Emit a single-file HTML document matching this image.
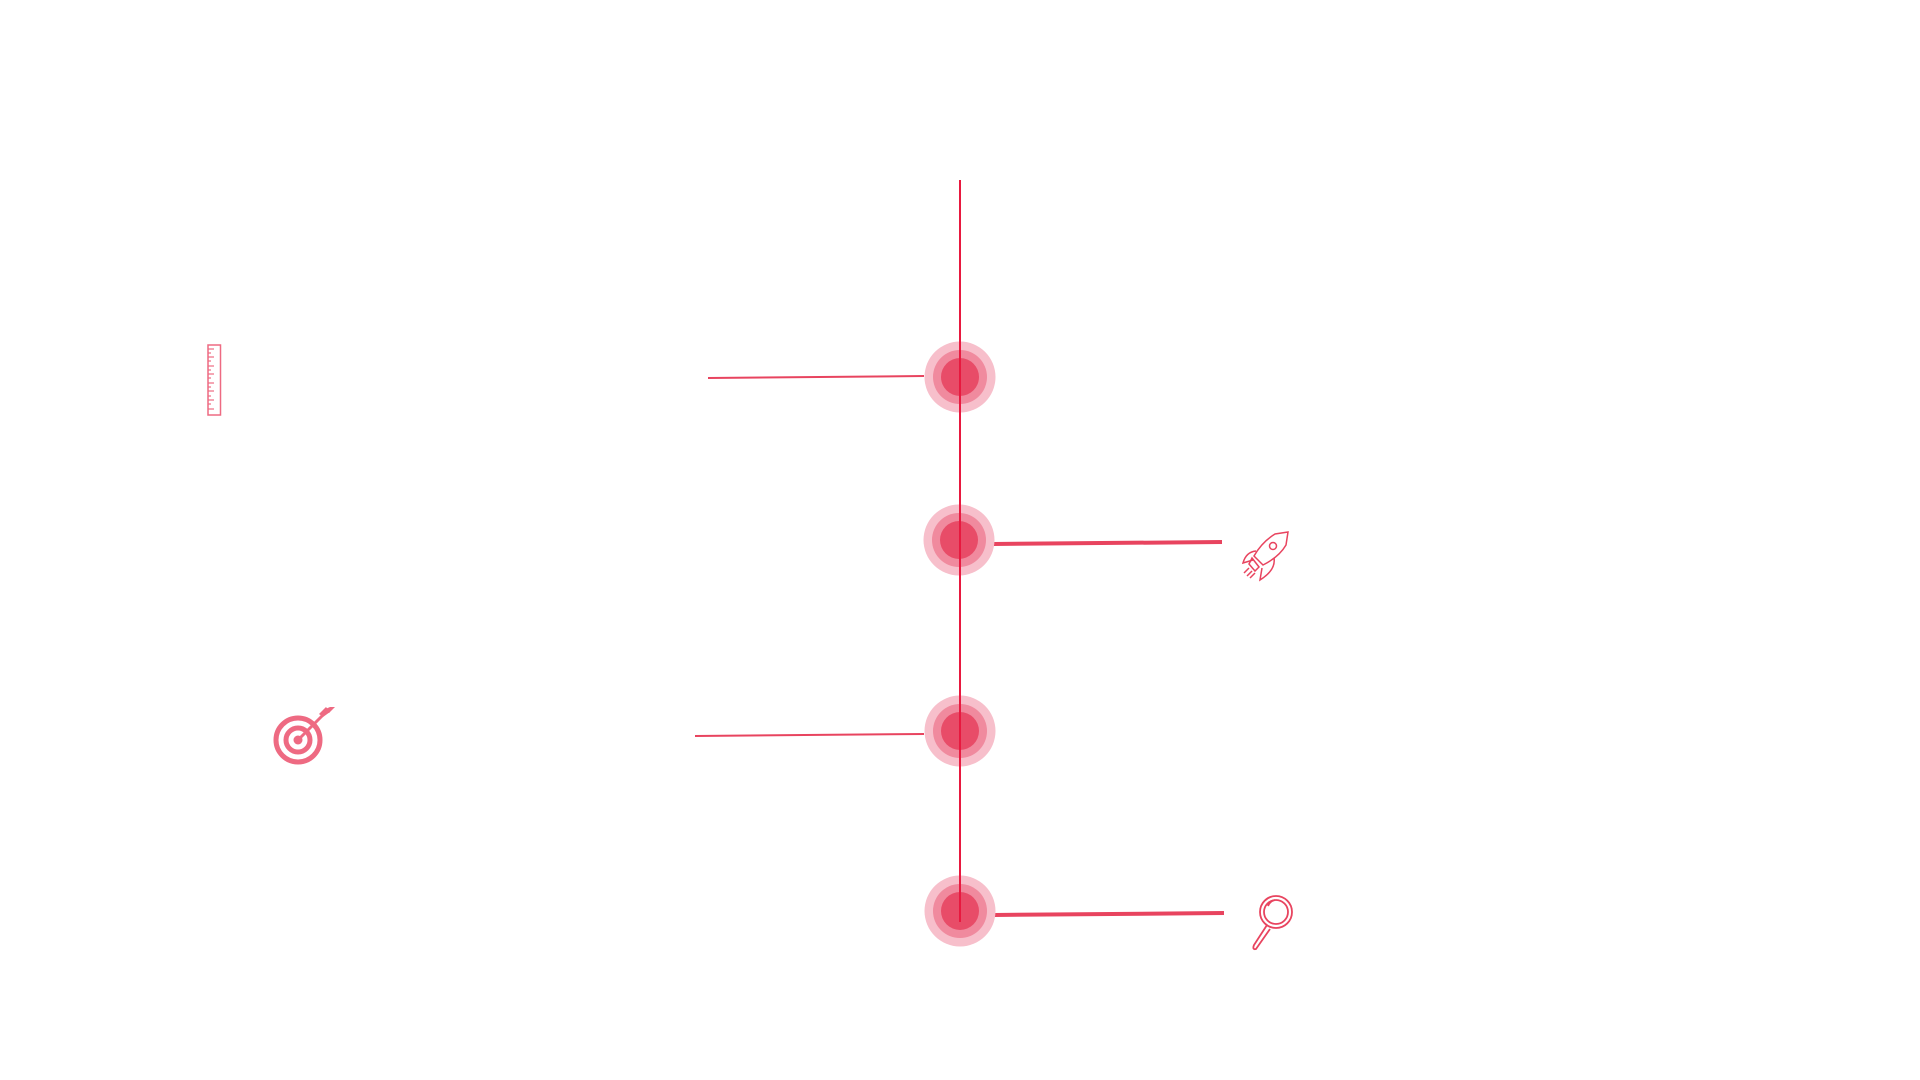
<!DOCTYPE html>
<html><head><style>html,body{margin:0;padding:0;background:#fff;width:1920px;height:1080px;overflow:hidden}</style></head>
<body>
<svg width="1920" height="1080" viewBox="0 0 1920 1080" xmlns="http://www.w3.org/2000/svg">
<g>
<line x1="708" y1="378" x2="924" y2="376" stroke="#e8445f" stroke-width="2"/>
<line x1="695" y1="736" x2="924" y2="734" stroke="#e8445f" stroke-width="2"/>
<line x1="993" y1="544" x2="1222" y2="542" stroke="#e8445f" stroke-width="4"/>
<line x1="994" y1="915" x2="1224" y2="913" stroke="#e8445f" stroke-width="4"/>
</g>
<g>
<circle cx="960" cy="377" r="35.5" fill="#f7bfcb"/><circle cx="960" cy="377" r="27" fill="#f08a9e"/><circle cx="960" cy="377" r="19" fill="#e84c68"/>
<circle cx="959" cy="540" r="35.5" fill="#f7bfcb"/><circle cx="959" cy="540" r="27" fill="#f08a9e"/><circle cx="959" cy="540" r="19" fill="#e84c68"/>
<circle cx="960" cy="731" r="35.5" fill="#f7bfcb"/><circle cx="960" cy="731" r="27" fill="#f08a9e"/><circle cx="960" cy="731" r="19" fill="#e84c68"/>
<circle cx="960" cy="911" r="35.5" fill="#f7bfcb"/><circle cx="960" cy="911" r="27" fill="#f08a9e"/><circle cx="960" cy="911" r="19" fill="#e84c68"/>
</g>
<line x1="960" y1="180" x2="960" y2="922" stroke="#e8193f" stroke-width="2"/>
<!-- ruler -->
<rect x="208" y="345" width="12.5" height="70" fill="none" stroke="#ee6a82" stroke-width="1.5"/>
<g stroke="#ee6a82" stroke-width="1.2">
<line x1="208" y1="349" x2="214" y2="349"/><line x1="208" y1="353" x2="211" y2="353"/><line x1="208" y1="357" x2="214" y2="357"/><line x1="208" y1="361" x2="211" y2="361"/><line x1="208" y1="366" x2="214" y2="366"/><line x1="208" y1="370" x2="211" y2="370"/><line x1="208" y1="374" x2="214" y2="374"/><line x1="208" y1="378" x2="211" y2="378"/><line x1="208" y1="383" x2="214" y2="383"/><line x1="208" y1="387" x2="211" y2="387"/><line x1="208" y1="391" x2="214" y2="391"/><line x1="208" y1="396" x2="211" y2="396"/><line x1="208" y1="400" x2="214" y2="400"/><line x1="208" y1="404" x2="211" y2="404"/><line x1="208" y1="409" x2="214" y2="409"/>
</g>
<!-- target -->
<g fill="none" stroke="#ee6a82" stroke-width="5">
<circle cx="298" cy="740" r="22"/><circle cx="298" cy="740" r="12"/></g>
<circle cx="298" cy="740" r="4.5" fill="#ee6a82"/>
<line x1="298" y1="740" x2="325" y2="713" stroke="#ee6a82" stroke-width="3"/>
<polygon points="319,714 326,707 330,712 323,717" fill="#ee6a82"/>
<polygon points="323,710 330,707 335,707 329,713" fill="#ee6a82"/>
<!-- rocket -->
<g fill="none" stroke="#e8445f" stroke-width="1.5">
<path d="M1288,532 L1275,534 Q1262,542 1254,556 L1263,565 Q1279,557 1286,545 Z"/>
<circle cx="1273" cy="546" r="3.5"/>
<path d="M1256,551 Q1246,552 1243,563 L1253,560"/>
<path d="M1274,558 Q1276,570 1260,580 L1262,568"/>
<path d="M1252,558 L1259,567 L1255,571 L1249,564 Z"/>
<line x1="1249" y1="568" x2="1244" y2="573"/><line x1="1252" y1="571" x2="1247" y2="576"/><line x1="1255" y1="573" x2="1250" y2="578"/>
</g>
<!-- magnifier -->
<g fill="none" stroke="#e8445f" stroke-width="1.8">
<circle cx="1276" cy="912" r="16"/><circle cx="1276" cy="912" r="12"/>
<path d="M1267,925 L1254,945 Q1252,950 1256,949 L1270,929"/>
<path d="M1268,906 Q1270,901 1275,900"/>
</g>
</svg>
</body></html>
